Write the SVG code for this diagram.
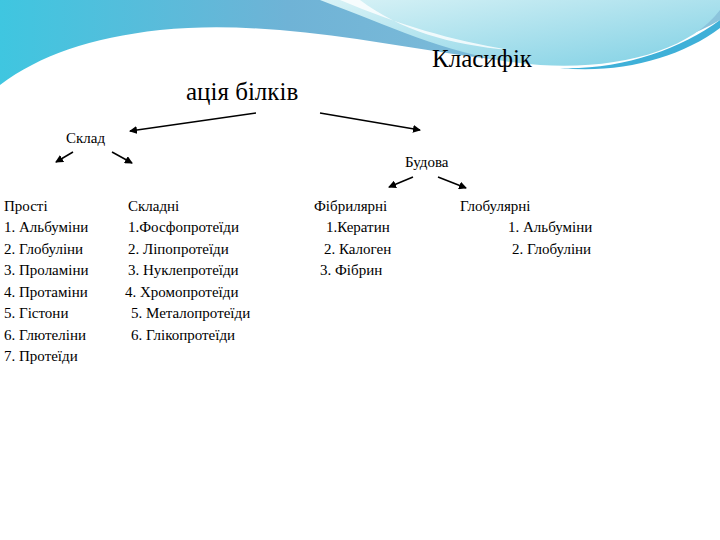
<svg xmlns="http://www.w3.org/2000/svg" width="720" height="540" viewBox="0 0 720 540">
<defs>
<linearGradient id="g1" x1="0" y1="0" x2="1" y2="0"><stop offset="0" stop-color="#3fc6e0"/><stop offset="0.4" stop-color="#6fb3d6"/><stop offset="1" stop-color="#8cc4dc"/></linearGradient>
<linearGradient id="g2" x1="0" y1="0" x2="1" y2="1"><stop offset="0" stop-color="#d8f2f6"/><stop offset="1" stop-color="#7fd0e4"/></linearGradient>
<marker id="ah" markerWidth="8" markerHeight="8" refX="7" refY="4" orient="auto" markerUnits="userSpaceOnUse"><path d="M0,0 L8,4 L0,8 Z" fill="#000"/></marker>
<style>
text{font-family:'Liberation Serif','DejaVu Serif',serif}
.t{font-size:15px}
.h{font-size:25px}
line{stroke:#000;stroke-width:1.5;marker-end:url(#ah)}
</style>
</defs>
<rect width="720" height="540" fill="#fff"/>
<path d="M0,0 H720 V20 C650,60 560,70 460,55 C360,40 260,20 160,30 C90,38 40,55 0,85 Z" fill="url(#g1)"/>
<path d="M320,0 H720 V10 C690,50 620,70 540,65 C460,60 400,30 320,0 Z" fill="url(#g2)"/>
<path d="M340,0 C400,25 450,40 510,50 C450,45 400,30 360,0 Z" fill="#fff" opacity="0.8"/>
<path d="M560,68 C620,70 680,50 720,20 V28 C680,58 620,74 560,68 Z" fill="#3fb0d8"/>
<g id="title"><text class="h" x="432" y="67" font-family="Liberation Serif, serif">Класифік</text><text class="h" x="186" y="100" font-family="Liberation Serif, serif">ація білків</text></g>
<g id="sklad"><text class="t" x="66" y="143">Склад</text></g>
<g id="budova"><text class="t" x="405" y="167">Будова</text></g>
<g id="prosti" class="t"><text x="4" y="211">Прості</text><text x="4" y="232">1. Альбуміни</text><text x="4" y="254">2. Глобуліни</text><text x="4" y="275">3. Проламіни</text><text x="4" y="297">4. Протаміни</text><text x="4" y="318">5. Гістони</text><text x="4" y="340">6. Глютеліни</text><text x="4" y="361">7. Протеїди</text></g>
<g id="skladni" class="t"><text x="128" y="211">Складні</text><text x="128" y="232">1.Фосфопротеїди</text><text x="128" y="254">2. Ліпопротеїди</text><text x="128" y="275">3. Нуклепротеїди</text><text x="125" y="297">4. Хромопротеїди</text><text x="131" y="318">5. Металопротеїди</text><text x="131" y="340">6. Глікопротеїди</text></g>
<g id="fibr" class="t"><text x="314" y="211">Фібрилярні</text><text x="326" y="232">1.Кератин</text><text x="324" y="254">2. Калоген</text><text x="320" y="275">3. Фібрин</text></g>
<g id="glob" class="t"><text x="460" y="211">Глобулярні</text><text x="508" y="232">1. Альбуміни</text><text x="512" y="254">2. Глобуліни</text></g>
<g id="connectors">
<line x1="256" y1="113" x2="130" y2="131"/>
<line x1="320" y1="113" x2="420" y2="130"/>
<line x1="73" y1="152" x2="56" y2="162"/>
<line x1="112" y1="152" x2="132" y2="163"/>
<line x1="413" y1="177" x2="389" y2="187"/>
<line x1="438" y1="177" x2="466" y2="188"/>
</g>
</svg>
